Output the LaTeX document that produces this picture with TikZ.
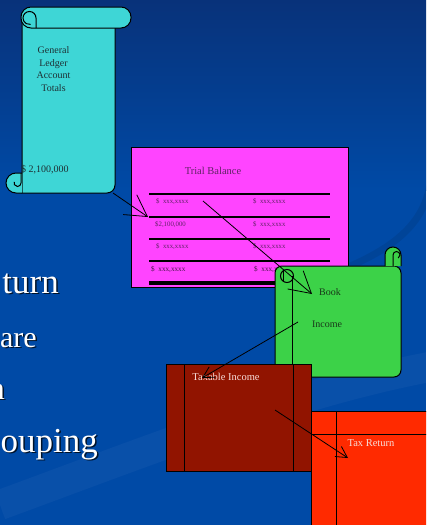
\documentclass[tikz,border=0pt]{standalone}
\usepackage{fontspec}
\setmainfont{Liberation Serif}
\usetikzlibrary{arrows.meta}

\definecolor{slidetop}{RGB}{8,50,122}
\definecolor{slideblue}{RGB}{0,74,166}
\definecolor{ledgercyan}{RGB}{62,214,214}
\definecolor{trialpink}{RGB}{255,68,255}
\definecolor{bookgreen}{RGB}{60,210,72}
\definecolor{taxablered}{RGB}{145,20,0}
\definecolor{returnred}{RGB}{255,42,0}
\definecolor{inkdark}{RGB}{30,48,52}
\definecolor{inkpink}{RGB}{95,35,100}
\definecolor{inkgreen}{RGB}{25,55,25}
\definecolor{paletext}{RGB}{248,222,218}

\tikzset{
  outline/.style={draw=black, line width=1pt},
  rowline/.style={draw=black, line width=1.8pt},
  boxtext/.style={font=\fontsize{10}{12.5}\selectfont, inner sep=0pt},
  bigtext/.style={font=\fontsize{10.5}{12.5}\selectfont, inner sep=0pt},
  tbentry/.style={font=\fontsize{6.8}{7}\selectfont, text=inkpink, inner sep=0pt, anchor=west},
  bulletword/.style={font=\fontsize{32}{36}\selectfont, text=white, inner sep=0pt, anchor=base east},
  bulletshadow/.style={bulletword, text=black!75!slideblue},
  bigflow/.style={draw=black, line width=0.8pt, -{Straight Barb[length=21pt,width=24pt]}},
  smallflow/.style={draw=black, line width=0.8pt, -{Straight Barb[length=11pt,width=12pt]}}
}

\begin{document}
\begin{tikzpicture}[x=1pt, y=-1pt]
    \useasboundingbox (0,0) rectangle (426,525);
    \clip (0,0) rectangle (426,525);

    % Slide background
    \fill[slideblue] (0,0) rectangle (426,525);
    \shade[top color=slidetop, bottom color=slideblue] (0,0) rectangle (426,190);
    \draw[white, opacity=0.035, line width=30pt] (0,505) .. controls (150,450) and (300,390) .. (440,365);
    \draw[black, opacity=0.08, line width=7pt] (430,150) .. controls (440,225) and (390,255) .. (300,285);

    % Left bullet words, cut off at the edge
    \node[bulletshadow, font=\fontsize{35}{38}\selectfont] (w1s) at (60.5,294.5) {turn};
    \node[bulletword, font=\fontsize{35}{38}\selectfont] (w1) at (59,293) {turn};
    \node[bulletshadow, font=\fontsize{30}{34}\selectfont] (w2s) at (38.5,348.5) {are};
    \node[bulletword, font=\fontsize{30}{34}\selectfont] (w2) at (37,347) {are};
    \node[bulletshadow] (w3s) at (6.5,400.5) {n};
    \node[bulletword] (w3) at (5,399) {n};
    \node[bulletshadow, font=\fontsize{35}{38}\selectfont] (w4s) at (99.5,453.5) {ouping};
    \node[bulletword, font=\fontsize{35}{38}\selectfont] (w4) at (98,452) {ouping};

    % General ledger scroll
    \draw[outline, fill=ledgercyan] (22,20) -- (22,193) -- (107,193) arc[start angle=270, end angle=360, radius=8pt] -- (115,20);
    \draw[outline, fill=ledgercyan, rounded corners=10pt] (21,7) rectangle (131,28);
    \draw[outline] (36,28) -- (36,18) arc[start angle=0, end angle=280, radius=6.5pt];
    \draw[outline, fill=ledgercyan] (22,173) -- (16,173) arc[start angle=90, end angle=270, radius=10pt] -- (22,193);
    \draw[outline] (21,173) -- (21,183) arc[start angle=0, end angle=-200, radius=3.5pt];
    \node[boxtext, text=inkdark, align=center] (ledger) at (53.5,69) {General\\Ledger\\Account\\Totals};
    \node[boxtext, text=inkdark, anchor=west] (ledgertotal) at (21,170) {\$ 2,100,000};

    % Trial balance sheet
    \draw[outline, fill=trialpink] (131,147) rectangle (348,287);
    \node[bigtext, text=inkpink] (trialtitle) at (213,171) {Trial Balance};
    \foreach \y in {194,217,239,261}
        \draw[rowline] (149,\y) -- (330,\y);
    \draw[draw=black, line width=3.5pt] (149,283) -- (330,283);
    \node[tbentry] (r1a) at (156,202) {\$\ \ xxx,xxxx};
    \node[tbentry] (r1b) at (253,202) {\$\ \ xxx,xxxx};
    \node[tbentry] (r2a) at (155,225) {\$2,100,000};
    \node[tbentry] (r2b) at (253,225) {\$\ \ xxx,xxxx};
    \node[tbentry] (r3a) at (156,247) {\$\ \ xxx,xxxx};
    \node[tbentry] (r3b) at (253,247) {\$\ \ xxx,xxxx};
    \node[tbentry, font=\fontsize{7.2}{8}\selectfont, text=inkpink!70!black] (r4a) at (151,269) {\$\ \ xxx,xxxx};
    \node[tbentry, font=\fontsize{7.2}{8}\selectfont, text=inkpink!70!black] (r4b) at (254,269) {\$\ \ xxx,xxxx};

    % Book income scroll
    \draw[outline, fill=bookgreen, rounded corners=7pt] (401,266) -- (275,266) -- (275,377) -- (401,377) -- cycle;
    \draw[outline, fill=bookgreen] (385,266) -- (385,255) arc[start angle=180, end angle=0, radius=8pt] -- (401,266);
    \draw[outline] (393,266) -- (393,255) arc[start angle=180, end angle=-60, radius=3.5pt];
    \draw[outline] (287,276) circle[radius=6.5pt];
    \draw[outline] (283.5,271) -- (283.5,281);
    \draw[outline] (292,276) -- (292,377);
    \node[boxtext, text=inkgreen] (book) at (330,292) {Book};
    \node[boxtext, text=inkgreen] (income) at (327,324) {Income};

    % Taxable income
    \draw[outline, fill=taxablered] (166,364) rectangle (311,471);
    \draw[outline] (184,364) -- (184,471);
    \draw[outline] (293,364) -- (293,471);
    \node[bigtext, text=paletext] (taxable) at (226,377) {Taxable Income};

    % Tax return
    \draw[outline, fill=returnred] (311,411) rectangle (440,540);
    \draw[outline] (311,434) -- (440,434);
    \draw[outline] (336,411) -- (336,540);
    \node[bigtext, text=paletext] (taxreturn) at (371,443) {Tax Return};

    % Flow arrows
    \coordinate (ledgerOut) at (113,193);
    \coordinate (trialIn) at (148,217);
    \coordinate (trialOut) at (203,201);
    \coordinate (bookIn) at (312,294);
    \coordinate (incomeOut) at (298,322);
    \coordinate (taxableIn) at (202,378);
    \coordinate (taxableOut) at (275,410);
    \coordinate (returnIn) at (348,458);
    \draw[bigflow] (ledgerOut) -- (trialIn);
    \draw[bigflow] (trialOut) -- (bookIn);
    \draw[smallflow] (incomeOut) -- (taxableIn);
    \draw[smallflow] (taxableOut) -- (returnIn);
\end{tikzpicture}
\end{document}
